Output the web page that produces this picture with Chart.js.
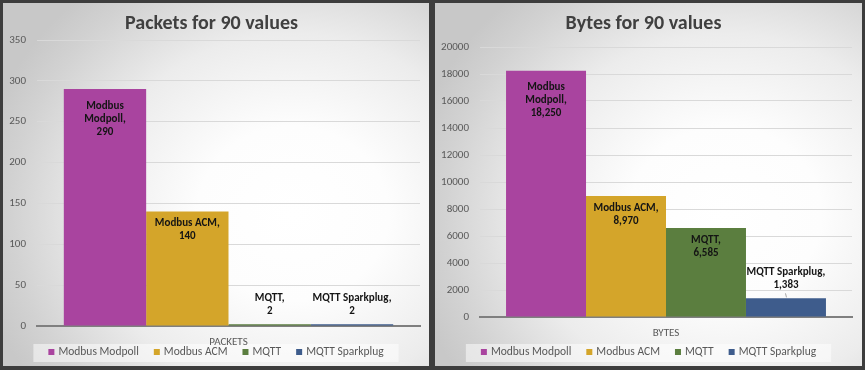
<!DOCTYPE html>
<html>
<head>
<meta charset="utf-8">
<script src="https://cdn.jsdelivr.net/npm/chart.js@4.4.1/dist/chart.umd.min.js"></script>
<style>
  html, body { margin: 0; padding: 0; }
  body { width: 865px; height: 370px; background: #3d3d3d; position: relative; overflow: hidden; }
  .panel {
    position: absolute; top: 3px; height: 363px;
    background: radial-gradient(ellipse 75% 80% at 68% 58%, #ffffff 0%, #fdfdfd 30%, #ececec 62%, #d2d2d2 88%, #c8c8c8 100%);
  }
  #left { left: 3px; width: 426px; }
  #right { left: 435px; width: 427px; }
</style>
</head>
<body>
<div class="panel" id="left"><canvas id="packetsChart"></canvas></div>
<div class="panel" id="right"><canvas id="bytesChart"></canvas></div>
<script>
// Data
const seriesNames = ["Modbus Modpoll", "Modbus ACM", "MQTT", "MQTT Sparkplug"];
const packetValues = [290, 140, 2, 2];
const byteValues = [18250, 8970, 6585, 1383];
const packetCategory = ["PACKETS"];
const byteCategory = ["BYTES"];

// Styles
const seriesColors = ["#a9449f", "#d4a52a", "#5b7e3f", "#3e5c8c"];
const FONT = "Carlito, Lato, sans-serif";

// wrap words to fit a width
function wrapWords(ctx, text, maxW) {
  const words = text.split(" ");
  const lines = [];
  let line = "";
  words.forEach((w) => {
    const test = line ? line + " " + w : w;
    if (line && ctx.measureText(test).width > maxW) {
      lines.push(line);
      line = w;
    } else {
      line = test;
    }
  });
  if (line) lines.push(line);
  return lines;
}

// Data labels: "name,\nvalue" inside the bar top, or above a short bar
const barLabels = {
  id: "barLabels",
  afterDatasetsDraw(chart) {
    const ctx = chart.ctx;
    ctx.save();
    ctx.font = "bold 11px " + FONT;
    ctx.fillStyle = "#141414";
    ctx.textAlign = "center";
    ctx.textBaseline = "middle";
    const lh = 13;
    chart.data.datasets.forEach((ds, i) => {
      const bar = chart.getDatasetMeta(i).data[0];
      const valueText = ds.data[0].toLocaleString("en-US");
      const barH = bar.base - bar.y;
      let lines = wrapWords(ctx, ds.label + ",", bar.width - 6).concat([valueText]);
      let y0;
      if (barH > lines.length * lh + 20) {
        y0 = bar.y + 12 + (lines.length - 2) * 5;
      } else {
        // outside end: no wrapping of the name
        lines = [ds.label + ",", valueText];
        y0 = bar.y - 13 - (lines.length - 1) * lh;
        if (barH > 4) {
          ctx.strokeStyle = "#a6a6a6";
          ctx.lineWidth = 1;
          ctx.beginPath();
          ctx.moveTo(bar.x + 0.5, bar.y - 1);
          ctx.lineTo(bar.x - 0.5, bar.y - 5);
          ctx.stroke();
        }
      }
      lines.forEach((t, k) => ctx.fillText(t, bar.x, y0 + k * lh));
    });
    ctx.restore();
  },
};

// Legend in a light box at the bottom (drawn first, under the axis text)
const boxLegend = {
  id: "boxLegend",
  beforeDraw(chart) {
    const ctx = chart.ctx;
    const sets = chart.data.datasets;
    ctx.save();
    ctx.font = "11.5px " + FONT;
    const box = 6, gapText = 4, gapItem = 15;
    const widths = sets.map((ds) => box + gapText + ctx.measureText(ds.label).width);
    const total = widths.reduce((a, b) => a + b, 0) + gapItem * (sets.length - 1);
    let x = chart.width / 2 - total / 2;
    const y = chart.height - 14;
    ctx.fillStyle = "rgba(255,255,255,0.5)";
    ctx.fillRect(x - 15, y - 8, total + 30, 18);
    ctx.textBaseline = "middle";
    ctx.textAlign = "left";
    sets.forEach((ds, i) => {
      ctx.fillStyle = ds.backgroundColor;
      ctx.fillRect(x, y - box / 2, box, box);
      ctx.fillStyle = "#595959";
      ctx.fillText(ds.label, x + box + gapText, y + 0.5);
      x += widths[i] + gapItem;
    });
    ctx.restore();
  },
};

function makeChart(canvasId, category, values, opts) {
  const datasets = seriesNames.map((name, i) => ({
    label: name,
    data: [values[i]],
    backgroundColor: seriesColors[i],
    borderWidth: 0,
    categoryPercentage: 0.86,
    barPercentage: 1.0,
  }));

  return new Chart(document.getElementById(canvasId).getContext("2d"), {
    type: "bar",
    data: { labels: category, datasets: datasets },
    options: {
      responsive: true,
      maintainAspectRatio: false,
      animation: false,
      devicePixelRatio: 1,
      layout: { padding: { left: 0, right: opts.padRight, top: 0, bottom: 14 } },
      plugins: {
        legend: { display: false },
        tooltip: { enabled: false },
        title: {
          display: true,
          text: opts.title,
          color: "#404040",
          font: { family: FONT, size: 20, weight: "bold" },
          padding: { top: 9, bottom: opts.titleGap },
        },
      },
      scales: {
        x: {
          grid: { display: false, drawTicks: false },
          border: { display: true, color: "#7f7f7f", width: 2 },
          ticks: { color: "#595959", font: { family: FONT, size: 11 }, padding: opts.xPad },
          afterFit: (scale) => { scale.height = opts.xHeight; },
        },
        y: {
          min: 0,
          max: opts.max,
          ticks: {
            stepSize: opts.step,
            color: "#595959",
            font: { family: FONT, size: 11 },
            padding: 11,
            callback: (v) => String(v),
          },
          grid: { color: "#d9d9d9", drawTicks: false },
          border: { display: false },
          afterFit: (scale) => { scale.width = opts.yWidth; },
        },
      },
    },
    plugins: [barLabels, boxLegend],
  });
}

makeChart("packetsChart", packetCategory, packetValues, {
  title: "Packets for 90 values", max: 350, step: 50,
  padRight: 9, titleGap: 4, xHeight: 26, yWidth: 34, xPad: 10,
});

makeChart("bytesChart", byteCategory, byteValues, {
  title: "Bytes for 90 values", max: 20000, step: 2000,
  padRight: 10, titleGap: 11, xHeight: 35, yWidth: 45, xPad: 10,
});
</script>
</body>
</html>
